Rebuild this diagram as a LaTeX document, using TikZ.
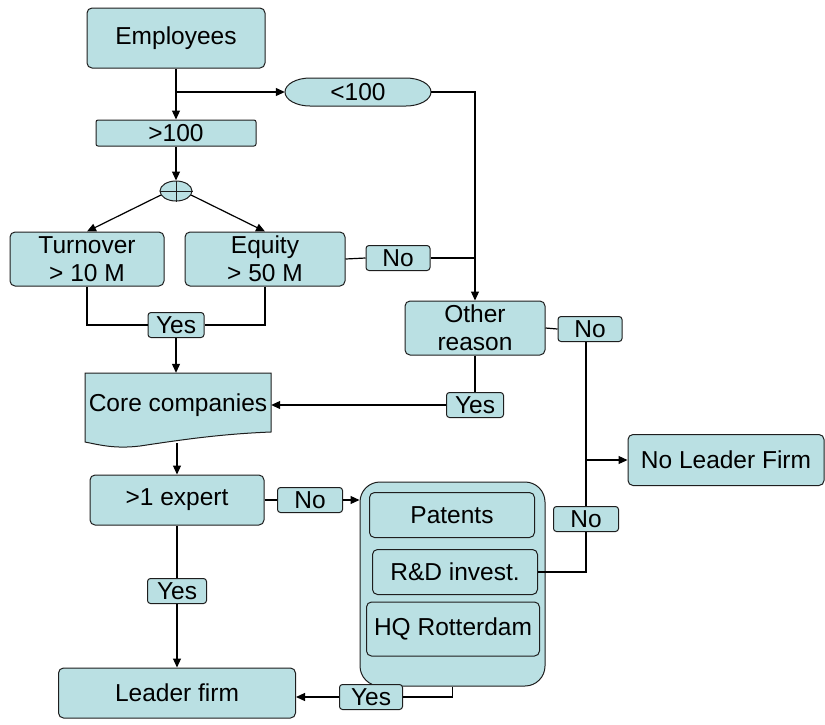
\documentclass[tikz,border=0pt]{standalone}
\usepackage{fontspec}
\setmainfont{Liberation Sans}
\usetikzlibrary{arrows.meta,shapes.geometric}
\definecolor{cfill}{RGB}{186,224,227}
\definecolor{cline}{RGB}{30,30,30}
\tikzset{
  every node/.style={font=\fontsize{24.5}{28}\selectfont},
  box/.style={draw=cline, fill=cfill, line width=1pt, rounded corners=5pt, inner sep=0pt, align=center},
  lab/.style={draw=cline, fill=cfill, line width=1pt, rounded corners=3pt, inner sep=0pt, minimum width=62pt, minimum height=25pt},
  conn/.style={draw=black, line width=1.2pt},
  arr/.style={conn, -{Triangle[length=9pt,width=8pt]}},
}
\begin{document}
\begin{tikzpicture}[x=1pt,y=-1pt]
\useasboundingbox (0,0) rectangle (825,724);
% nodes
\node[box, minimum width=178pt, minimum height=60pt] (emp) at (176,38) {Employees};
% <100 terminal shape with elliptical ends
\draw[line width=1pt, cline, fill=cfill] (310,78) -- (406,78) arc[start angle=90, end angle=-90, x radius=25, y radius=-14]
  -- (310,106) arc[start angle=270, end angle=90, x radius=25, y radius=-14] -- cycle;
\node[inner sep=0pt, minimum width=146pt, minimum height=28pt] (lt) at (358,92) {<100};
\node[box, rounded corners=2pt, minimum width=160pt, minimum height=26pt] (gt) at (176,133) {>100};
\node[draw=cline, fill=cfill, line width=1pt, ellipse, minimum width=32pt, minimum height=20pt, inner sep=0pt] (el) at (176,191) {};
\draw[line width=1pt, cline] (el.north) -- (el.south) (el.west) -- (el.east);
\node[box, minimum width=154pt, minimum height=54pt] (turn) at (87,259) {Turnover\\> 10 M};
\node[box, minimum width=160pt, minimum height=54pt] (eq) at (265,259) {Equity\\> 50 M};
\node[lab, minimum width=64pt] (no1) at (398,258) {No};
\node[lab, minimum width=56pt] (yes1) at (176,325) {Yes};
\node[box, minimum width=140pt, minimum height=54pt] (oth) at (475,328) {Other\\reason};
\node[lab, minimum width=57pt] (yes2) at (475,405) {Yes};
\node[lab, minimum width=64pt] (no2) at (590,329) {No};
% core companies (document shape)
\draw[line width=1pt, cline, fill=cfill] (85,373) -- (271,373) -- (271,432)
  .. controls (220,434) and (180,440) .. (140,446)
  .. controls (115,449) and (100,445) .. (85,442) -- cycle;
\node[inner sep=0pt, minimum width=186pt, minimum height=70pt] (core) at (178,408) {};
\node at (178,405) {Core companies};
\node[box, minimum width=196pt, minimum height=51pt] (nlf) at (726,460) {No Leader Firm};
\node[box, minimum width=174pt, minimum height=50pt] (exp) at (177,500) {>1 expert};
\node[lab, minimum width=65pt] (no4) at (310,500) {No};
\node[box, rounded corners=20pt, minimum width=185pt, minimum height=204pt] (cont) at (452.5,584) {};
\node[box, minimum width=165pt, minimum height=45pt] (pat) at (452,515) {Patents};
\node[box, minimum width=165pt, minimum height=45pt] (rd) at (455,572) {R\&D invest.};
\node[box, minimum width=173pt, minimum height=54pt] (hq) at (453,629) {HQ Rotterdam};
\node[lab, minimum width=65pt] (no3) at (586,519) {No};
\node[lab, minimum width=59pt] (yes4) at (177,591) {Yes};
\node[box, minimum width=237pt, minimum height=50pt] (lead) at (177,693) {Leader firm};
\node[lab, minimum width=63pt] (yes3) at (371,697) {Yes};
% connectors
\coordinate (j1) at (emp.south |- lt.west);
\draw[arr] (emp.south) -- (gt.north);
\draw[arr] (j1) -- (lt.west);
\draw[arr] (lt.east) -| (oth.north);
\draw[arr] (gt.south) -- (el.north);
\draw[arr] (el.195) -- (turn.north);
\draw[arr] (el.-15) -- (eq.north);
\draw[conn] (eq.east) -- (no1.west);
\draw[conn] (no1.east) -- (no1.east -| oth.north);
\draw[conn] (turn.south) |- (yes1.west);
\draw[conn] (eq.south) |- (yes1.east);
\draw[arr] (yes1.south) -- (yes1.south |- core.north);
\draw[conn] (oth.south) -- (yes2.north);
\draw[arr] (yes2.west) -- (core.east |- yes2.west);
\draw[conn] (oth.east) -- (no2.west);
\coordinate (j2) at (586,460);
\draw[conn] (no2.south -| j2) -- (j2);
\draw[arr] (j2) -- (nlf.west);
\draw[conn] (rd.east) -| (no3.south);
\draw[conn] (no3.north) -- (j2);
\draw[arr] (exp.north |- 0,443) -- (exp.north);
\draw[conn] (exp.east) -- (no4.west);
\draw[arr] (no4.east) -- (cont.west |- no4.east);
\draw[conn] (cont.south) |- (yes3.east);
\draw[arr] (yes3.west) -- (lead.east |- yes3.west);
\draw[conn] (exp.south) -- (yes4.north);
\draw[arr] (yes4.south) -- (lead.north);
\end{tikzpicture}
\end{document}
